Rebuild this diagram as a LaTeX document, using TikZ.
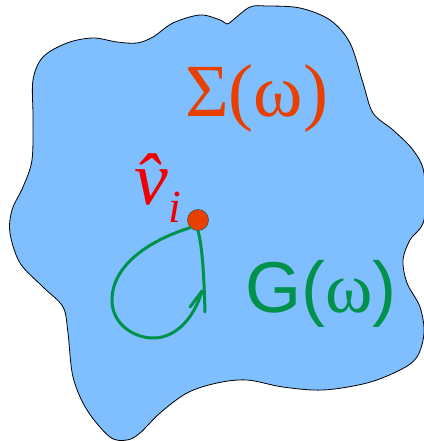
\documentclass[tikz,border=0pt]{standalone}
\usepackage{fontspec}
\setmainfont{Liberation Serif}
\newfontfamily\arialfont{Liberation Sans}
\definecolor{blobblue}{RGB}{128,191,255}
\definecolor{sigmaorange}{RGB}{232,64,0}
\definecolor{loopgreen}{RGB}{0,145,75}
\definecolor{vred}{RGB}{240,0,0}
\begin{document}
\begin{tikzpicture}[x=1pt,y=-1pt,
  loopline/.style={draw=loopgreen,line width=3pt,line cap=round},
  lbl/.style={inner sep=0pt,anchor=base west}]
\useasboundingbox (0,0) rectangle (423,441);
% blob
\draw[fill=blobblue,draw=black,line width=0.8pt]
  plot[smooth cycle,tension=0.55] coordinates {
  (33,80) (43,57) (67,43) (93,38) (117,42) (137,43) (153,37) (173,23)
  (200,15) (220,20) (227,24) (233,20) (250,7) (267,6) (300,8) (330,20)
  (350,43) (363,83) (373,113) (393,130) (413,150) (424,173) (424,220)
  (410,240) (403,260) (407,283) (420,307) (424,333) (417,357) (400,370)
  (367,383) (323,390) (283,387) (247,380) (217,383) (187,393) (160,413)
  (140,433) (127,440) (110,437) (87,410) (73,377) (68,333) (63,307)
  (43,287) (20,263) (10,233) (12,210) (23,187) (32,160) (33,117)};
% labels
\node[lbl,text=sigmaorange,font=\fontsize{75}{75}\selectfont] (sigma) at (185,116) {Σ(ω)};
\node[lbl,text=loopgreen,font=\arialfont\fontsize{72}{72}\selectfont] (gw) at (245,312) {G({\rmfamily ω})};
\node[lbl,text=vred,font=\itshape\fontsize{76}{76}\selectfont] (v) at (134,204) {\^{v}};
\node[lbl,text=vred,font=\itshape\fontsize{46}{46}\selectfont] (i) at (168,222) {i};
% loop
\coordinate (join) at (202,291);
\coordinate (tail) at (205,312);
\coordinate (barb) at (190,307);
\node[circle,fill=sigmaorange,draw=black!70,line width=0.6pt,minimum size=21pt,inner sep=0pt] (dot) at (198,220) {};
\draw[loopline] (dot.south west) .. controls (150,240) and (112,265) .. (112,300)
  .. controls (112,325) and (135,338) .. (153,338)
  .. controls (178,338) and (195,315) .. (join);
\draw[loopline] (dot.south) .. controls (203,250) and (204,280) .. (tail);
\draw[loopline] (barb) -- (join);
\end{tikzpicture}
\end{document}
